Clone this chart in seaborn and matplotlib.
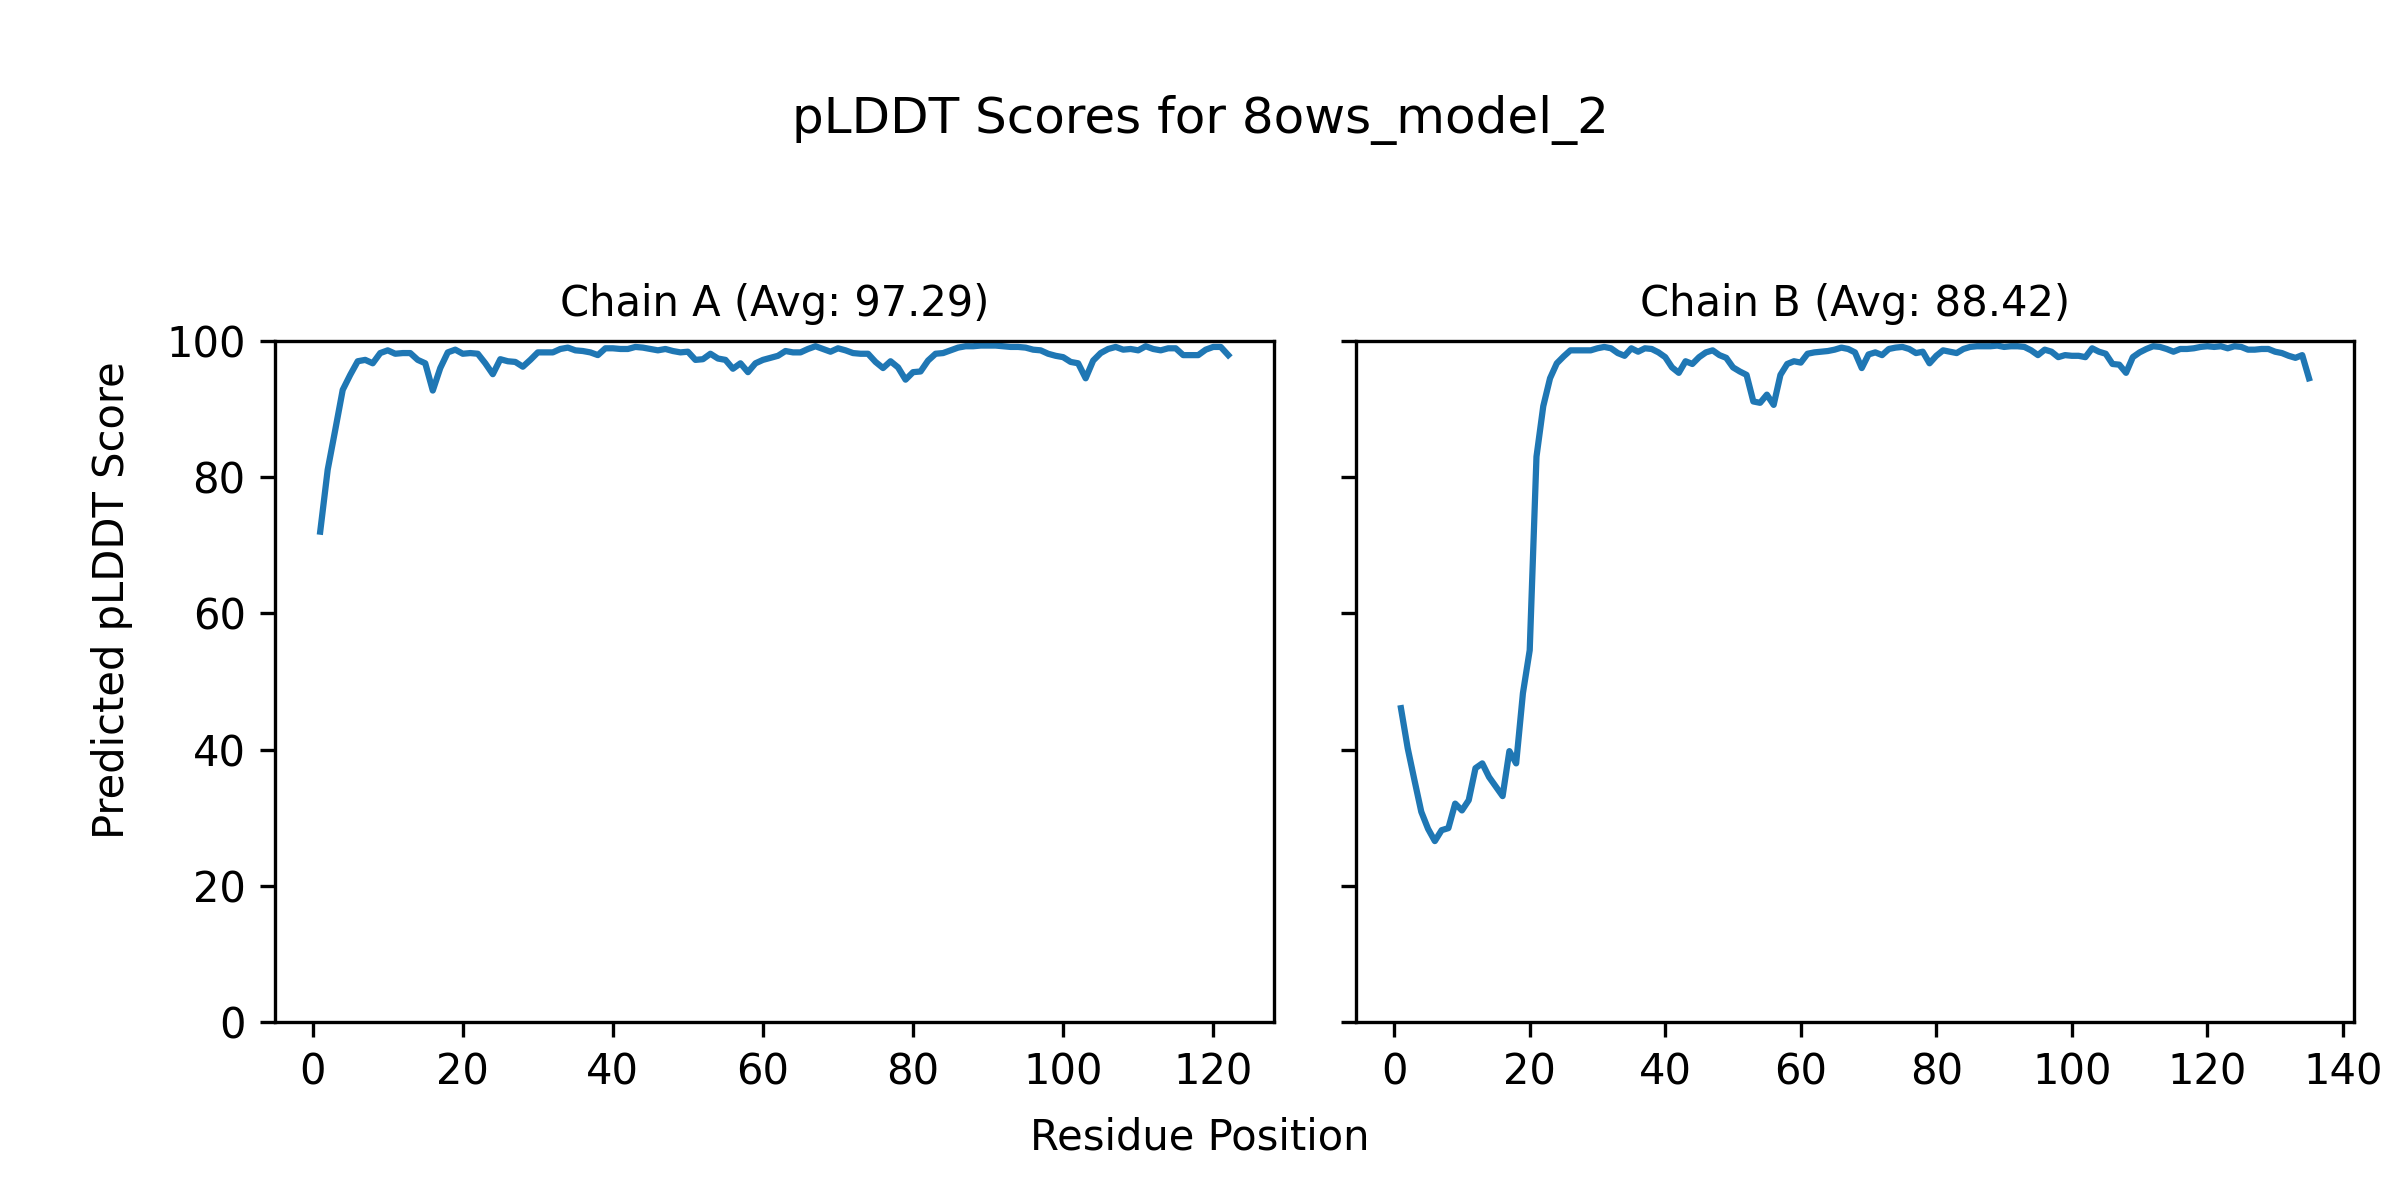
import matplotlib
matplotlib.use("Agg")
import matplotlib.pyplot as plt
import pandas as pd
import seaborn as sns
from matplotlib.ticker import MultipleLocator

# per-residue pLDDT scores
model_name = "8ows_model_2"
chain_ids = ["A", "B"]
chain_avgs = [97.29, 88.42]

chain_a_scores = [
    72.0, 81.1, 86.9, 92.8, 95.0, 97.0, 97.2, 96.7, 98.2, 98.6,
    98.1, 98.2, 98.2, 97.2, 96.7, 92.7, 96.0, 98.3, 98.7, 98.1,
    98.2, 98.1, 96.7, 95.1, 97.3, 97.0, 96.9, 96.2, 97.2, 98.3,
    98.3, 98.3, 98.8, 99.0, 98.6, 98.5, 98.3, 97.9, 98.9, 98.9,
    98.8, 98.8, 99.1, 99.0, 98.8, 98.6, 98.8, 98.5, 98.3, 98.4,
    97.2, 97.3, 98.1, 97.4, 97.2, 95.9, 96.7, 95.4, 96.7, 97.2,
    97.5, 97.8, 98.5, 98.3, 98.3, 98.8, 99.2, 98.8, 98.4, 98.9,
    98.6, 98.2, 98.1, 98.1, 96.9, 96.0, 97.0, 96.1, 94.3, 95.4,
    95.5, 97.1, 98.1, 98.2, 98.6, 99.0, 99.2, 99.2, 99.3, 99.3,
    99.3, 99.2, 99.1, 99.1, 99.0, 98.7, 98.6, 98.1, 97.8, 97.6,
    96.9, 96.7, 94.5, 97.1, 98.2, 98.8, 99.1, 98.7, 98.8, 98.6,
    99.2, 98.8, 98.6, 98.9, 98.9, 97.9, 97.9, 97.9, 98.7, 99.1,
    99.1, 97.9,
]

chain_b_scores = [
    46.1, 40.2, 35.5, 30.9, 28.4, 26.6, 28.2, 28.5, 32.1, 31.1,
    32.6, 37.3, 38.0, 36.0, 34.6, 33.2, 39.8, 38.0, 48.3, 54.6,
    83.0, 90.4, 94.5, 96.7, 97.7, 98.6, 98.6, 98.6, 98.6, 98.9,
    99.1, 98.9, 98.2, 97.8, 98.9, 98.4, 98.9, 98.8, 98.3, 97.6,
    96.1, 95.3, 97.0, 96.6, 97.6, 98.3, 98.6, 97.9, 97.5, 96.1,
    95.5, 95.0, 91.1, 90.9, 92.1, 90.6, 95.0, 96.6, 97.0, 96.8,
    98.1, 98.3, 98.4, 98.5, 98.7, 99.0, 98.8, 98.3, 96.0, 98.0,
    98.3, 97.9, 98.8, 99.0, 99.1, 98.8, 98.2, 98.4, 96.7, 97.8,
    98.6, 98.4, 98.2, 98.8, 99.1, 99.2, 99.2, 99.2, 99.3, 99.1,
    99.2, 99.2, 99.1, 98.6, 97.9, 98.7, 98.4, 97.6, 97.9, 97.8,
    97.8, 97.6, 98.9, 98.4, 98.1, 96.6, 96.5, 95.3, 97.6, 98.3,
    98.8, 99.2, 99.1, 98.8, 98.4, 98.8, 98.8, 98.9, 99.1, 99.2,
    99.1, 99.2, 98.9, 99.2, 99.1, 98.7, 98.7, 98.8, 98.8, 98.4,
    98.2, 97.8, 97.5, 97.9, 94.5,
]

frames = []
for chain, scores in zip(chain_ids, [chain_a_scores, chain_b_scores]):
    frames.append(pd.DataFrame({
        "chain": chain,
        "residue": range(1, len(scores) + 1),
        "plddt": scores,
    }))
df = pd.concat(frames, ignore_index=True)

fig, axes = plt.subplots(1, 2, figsize=(8, 4), dpi=300, sharey=True)
fig.subplots_adjust(left=0.1145, right=0.981, bottom=0.148, top=0.716, wspace=0.082)

for ax, chain, avg in zip(axes, chain_ids, chain_avgs):
    sub = df[df["chain"] == chain]
    sns.lineplot(data=sub, x="residue", y="plddt", ax=ax, color="#1f77b4", linewidth=1.5)
    ax.set_title(f"Chain {chain} (Avg: {avg:.2f})", fontsize=10)
    ax.set_xlabel("")
    ax.set_ylabel("")
    ax.set_ylim(0, 100)
    ax.xaxis.set_major_locator(MultipleLocator(20))

fig.suptitle(f"pLDDT Scores for {model_name}", fontsize=12, y=0.90, va="center")
fig.supxlabel("Residue Position", fontsize=10, y=0.052, va="center")
fig.supylabel("Predicted pLDDT Score", fontsize=10, x=0.0467, ha="center", va="center")

fig.savefig("out.png", dpi=300)
